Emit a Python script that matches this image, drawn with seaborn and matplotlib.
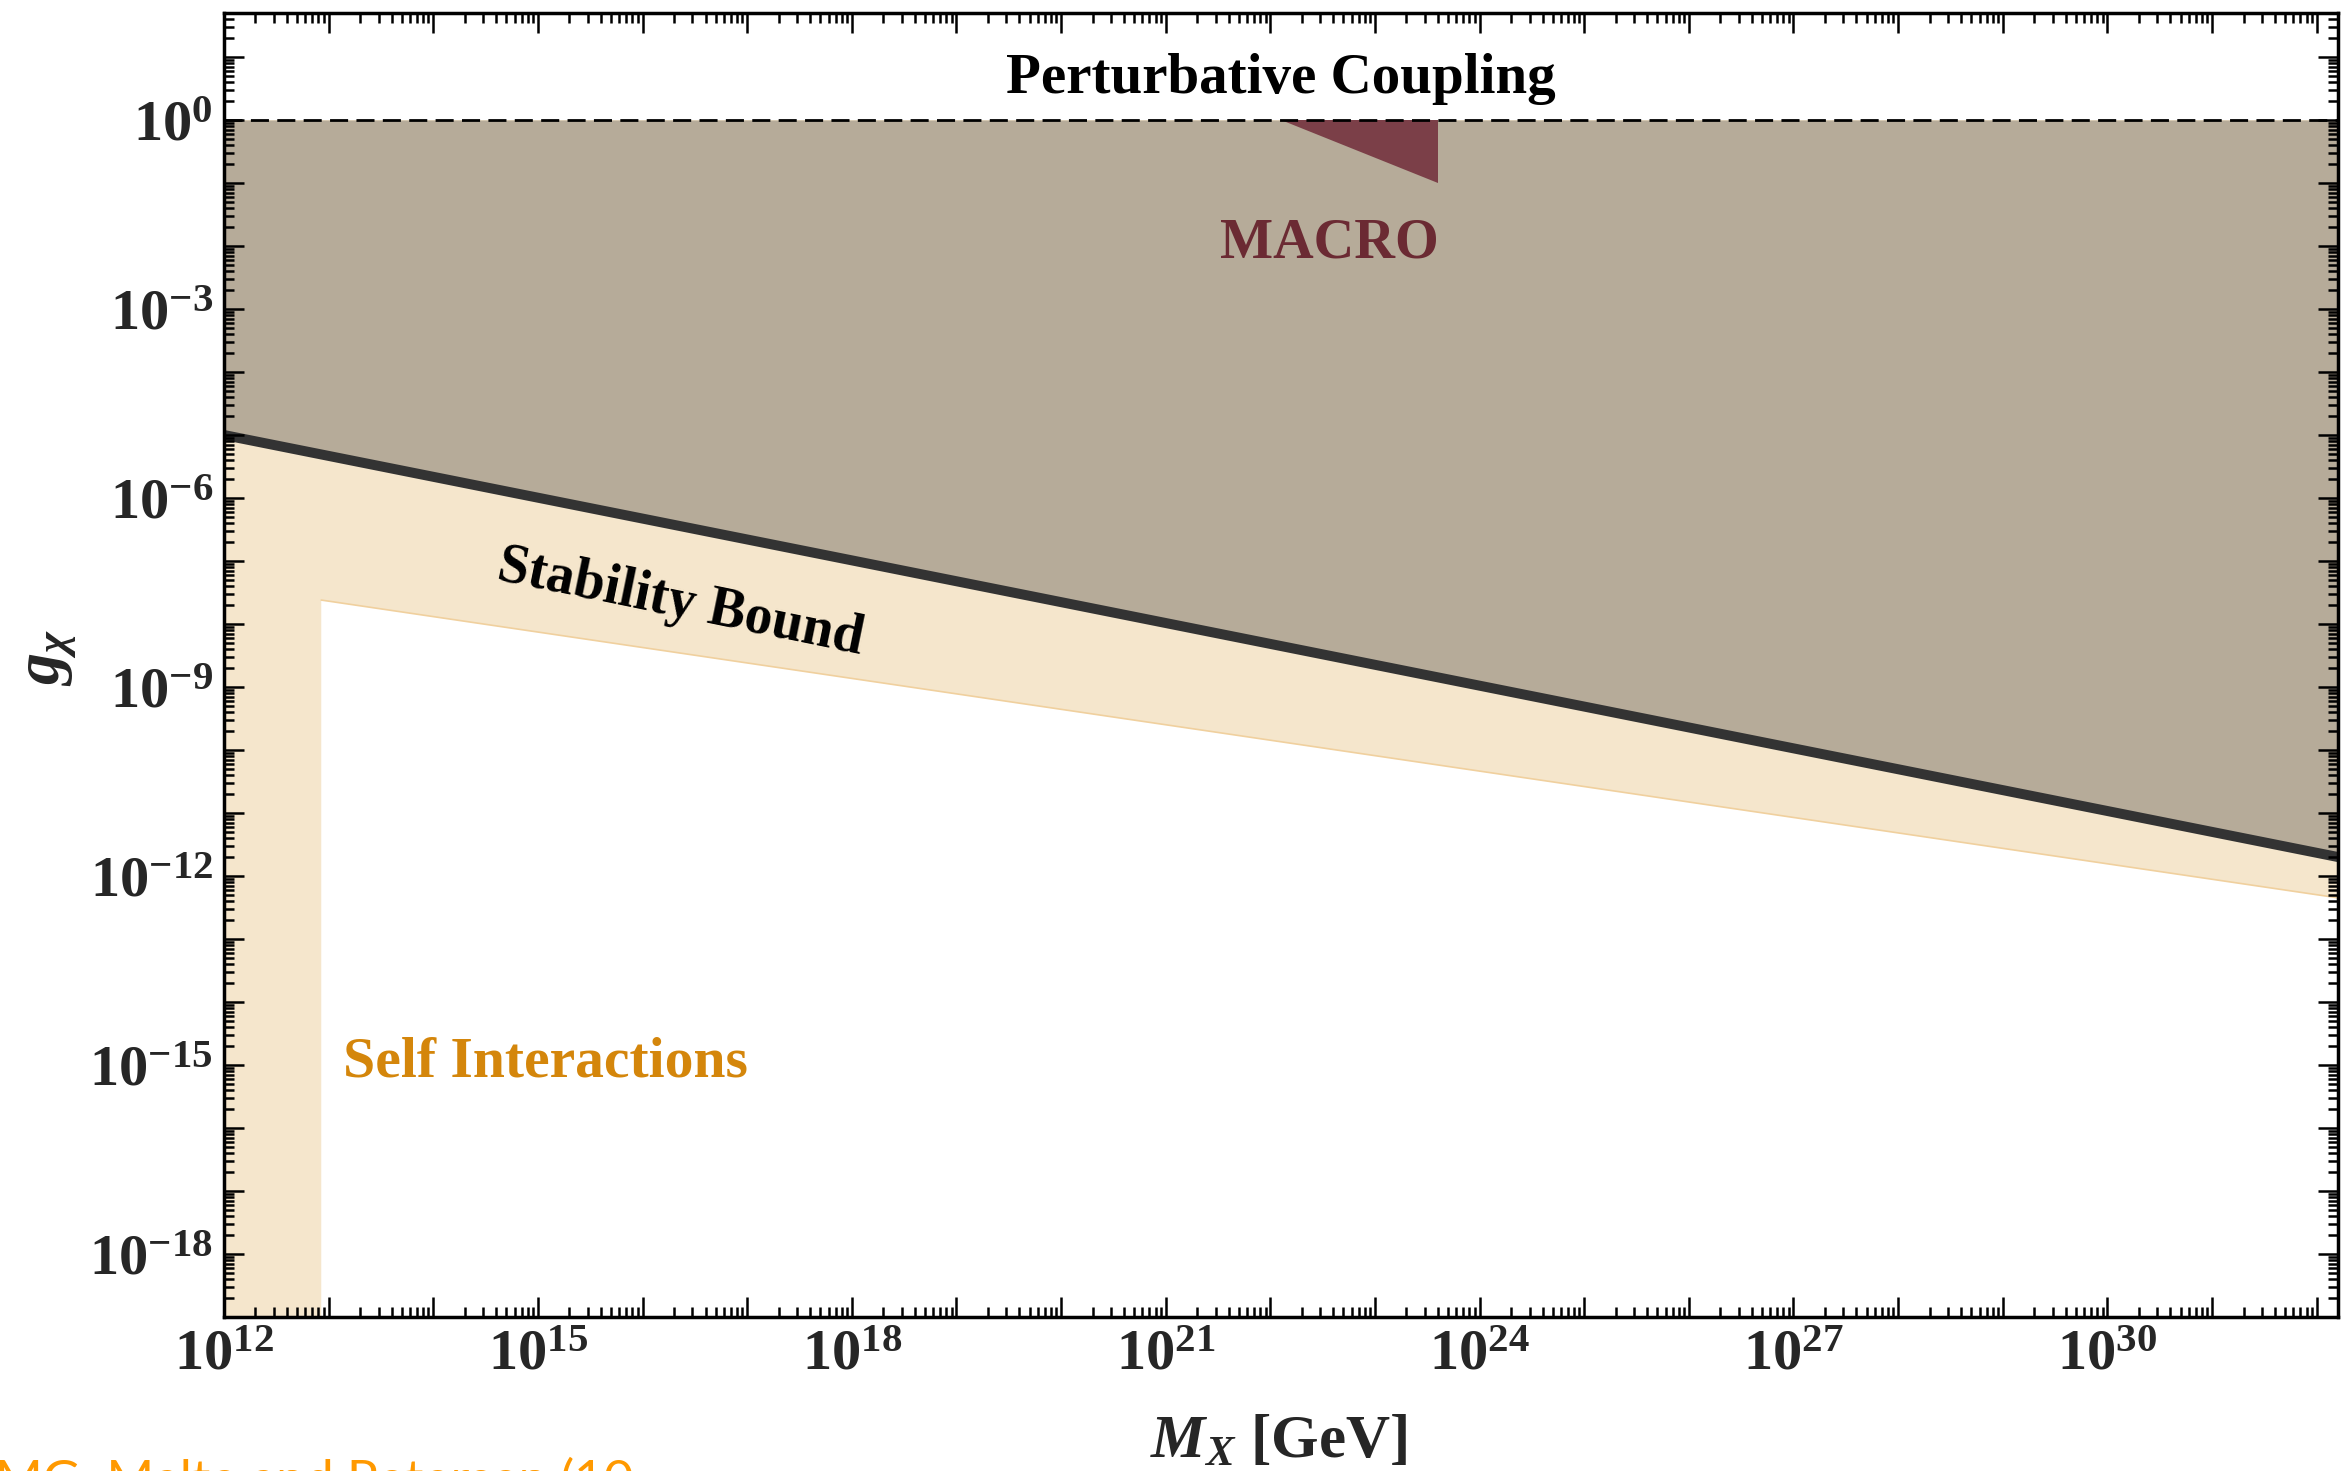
import numpy as np
import pandas as pd
import matplotlib
matplotlib.use("Agg")
import matplotlib.pyplot as plt
import matplotlib.ticker as mticker
import seaborn as sns

# ---------------- data ----------------
x_limits = [1e12, 1.6e32]
y_limits = [1e-19, 50.0]

stability_mass = [1e12, 1.6e32]
stability_g = [1e-5, 2.0e-12]

self_int_edge_mass = [8.5e12, 1.6e32]
self_int_edge_g = [2.4e-8, 4.5e-13]
self_int_strip_mass = 8.5e12
self_int_top_g = 1.0

perturbative_g = 1.0

macro_mass = [1.26e22, 4.0e23, 4.0e23]
macro_g = [1.0, 1.0, 0.1]

# ---------------- style ----------------
sns.set_style("ticks")
plt.rcParams["font.family"] = ["Liberation Serif", "DejaVu Serif"]
plt.rcParams["font.weight"] = "bold"
plt.rcParams["mathtext.fontset"] = "custom"
plt.rcParams["mathtext.rm"] = "Liberation Serif:bold"
plt.rcParams["mathtext.bf"] = "Liberation Serif:bold"
plt.rcParams["mathtext.it"] = "Liberation Serif:bold:italic"

GRAY = "#b6ab99"
ORANGE_FILL = "#f5e6cc"
ORANGE_EDGE = "#f0d09e"
MACRO_FILL = "#7b3f48"
MACRO_TEXT = "#6b2a33"
SI_TEXT = "#d4860b"

fig = plt.figure(figsize=(23.43, 14.71), dpi=100)
ax = fig.add_axes([224 / 2343, 1 - 1317 / 1471, (2338 - 224) / 2343, (1317 - 13) / 1471])
ax.set_xscale("log")
ax.set_yscale("log")
ax.set_xlim(*x_limits)
ax.set_ylim(*y_limits)

# self-interaction excluded region (orange)
si_x = [x_limits[0], self_int_strip_mass, self_int_strip_mass,
        self_int_edge_mass[1], self_int_edge_mass[1], x_limits[0]]
si_y = [y_limits[0], y_limits[0], self_int_edge_g[0],
        self_int_edge_g[1], self_int_top_g, self_int_top_g]
ax.fill(si_x, si_y, color=ORANGE_FILL, lw=0, zorder=1)
edge_df = pd.DataFrame({"M": self_int_edge_mass, "g": self_int_edge_g})
sns.lineplot(data=edge_df, x="M", y="g", ax=ax, color=ORANGE_EDGE, lw=1.2, zorder=1.2)

# region above the stability bound (gray)
ax.fill_between(stability_mass, stability_g, perturbative_g, color=GRAY, lw=0, zorder=1.4)

# MACRO region
ax.fill(macro_mass, macro_g, color=MACRO_FILL, lw=0, zorder=1.6)

# stability line
stab_df = pd.DataFrame({"M": stability_mass, "g": stability_g})
sns.lineplot(data=stab_df, x="M", y="g", ax=ax, color="#333333", lw=7.2, zorder=1.8)

# perturbative coupling line
ax.axhline(perturbative_g, color="black", lw=2.0, ls=(0, (6.5, 3.0)), zorder=2)

# ---------------- ticks ----------------
ax.xaxis.set_major_locator(mticker.LogLocator(base=10, numticks=100))
ax.yaxis.set_major_locator(mticker.LogLocator(base=10, numticks=100))
ax.xaxis.set_minor_locator(mticker.LogLocator(base=10, subs=np.arange(2, 10), numticks=100))
ax.yaxis.set_minor_locator(mticker.LogLocator(base=10, subs=np.arange(2, 10), numticks=100))


def fmt(v, pos):
    e = int(round(np.log10(v)))
    if e % 3 != 0:
        return ""
    return r"$\mathbf{10^{%d}}$" % e


ax.xaxis.set_major_formatter(mticker.FuncFormatter(fmt))
ax.yaxis.set_major_formatter(mticker.FuncFormatter(fmt))
ax.xaxis.set_minor_formatter(mticker.NullFormatter())
ax.yaxis.set_minor_formatter(mticker.NullFormatter())

ax.tick_params(which="both", direction="in", top=True, right=True, color="black", width=1.8)
ax.tick_params(which="major", length=14.4, labelsize=42)
ax.tick_params(which="minor", length=7.2)
ax.tick_params(axis="x", which="major", pad=9)
ax.tick_params(axis="y", which="major", pad=8)
ax.xaxis.set_zorder(8)
ax.yaxis.set_zorder(8)
for s in ax.spines.values():
    s.set_linewidth(2.5)
    s.set_color("black")
    s.set_zorder(10)

# ---------------- labels ----------------
ax.set_xlabel(r"$M_X$ [GeV]", fontsize=44, fontweight="bold")
ax.xaxis.set_label_coords(0.499, -0.075)
ax.set_ylabel(r"$g_\chi$", fontsize=46)
ax.yaxis.set_label_coords(-0.069, 0.506)

ax.text(1.26e22, 4.5, "Perturbative Coupling", fontsize=41, fontweight="bold",
        ha="center", va="center", color="black", zorder=11)
ax.text(3.7e22, 1.1e-2, "MACRO", fontsize=40.5, fontweight="bold",
        ha="center", va="center", color=MACRO_TEXT, zorder=11)
ax.text(2.3e16, 2.2e-8, "Stability Bound", fontsize=40, fontweight="bold",
        ha="center", va="center", rotation=-11.6, rotation_mode="anchor",
        color="black", zorder=11)
ax.text(1.38e13, 1.1e-15, "Self Interactions", fontsize=41.5, fontweight="bold",
        ha="left", va="center", color=SI_TEXT, zorder=11)

fig.text(-0.002, 1 - 1458 / 1471, "MG: Malte and Petersen (10", fontsize=37,
         family=["Lato", "DejaVu Sans"], fontweight="normal", color="#ff9900",
         ha="left", va="top")

fig.savefig("out.png", dpi=100)
